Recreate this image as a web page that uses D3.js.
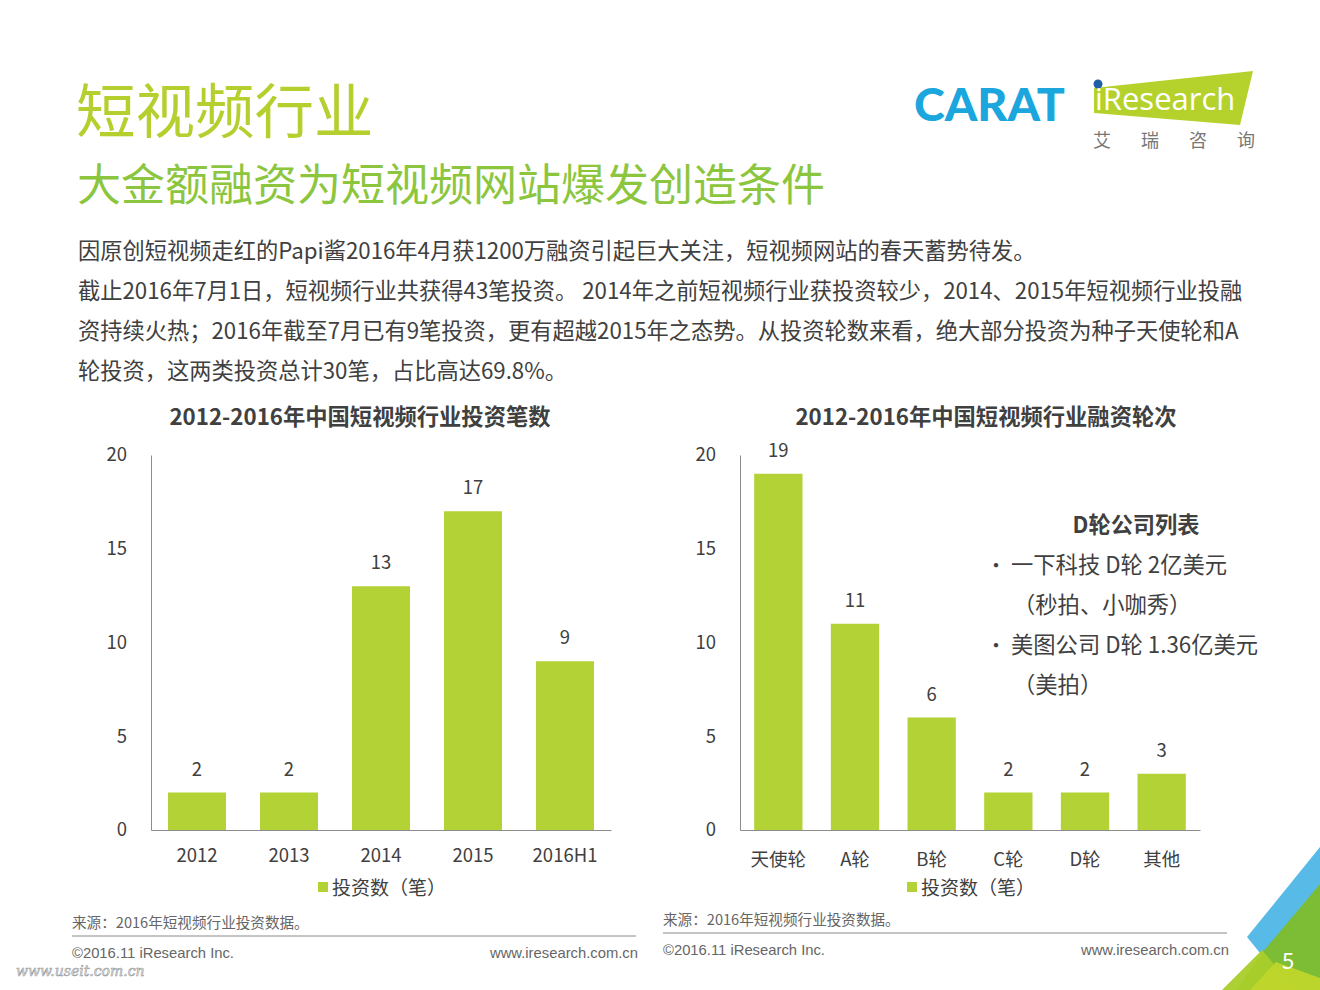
<!DOCTYPE html>
<html>
<head>
<meta charset="utf-8">
<script src="https://cdn.jsdelivr.net/npm/d3@7"></script>
<style>
  body { margin: 0; background: #fff; }
  svg { display: block; font-family: "Noto Sans CJK SC", "Noto Sans", sans-serif; }
</style>
</head>
<body>
<svg id="slide" width="1320" height="990"></svg>
<script>
// data
var years = ["2012", "2013", "2014", "2015", "2016H1"];
var yearDeals = [2, 2, 13, 17, 9];
var rounds = ["天使轮", "A轮", "B轮", "C轮", "D轮", "其他"];
var roundDeals = [19, 11, 6, 2, 2, 3];
var yTicks = [0, 5, 10, 15, 20];

var bodyLines = [
  "因原创短视频走红的Papi酱2016年4月获1200万融资引起巨大关注，短视频网站的春天蓄势待发。",
  "截止2016年7月1日，短视频行业共获得43笔投资。 2014年之前短视频行业获投资较少，2014、2015年短视频行业投融",
  "资持续火热；2016年截至7月已有9笔投资，更有超越2015年之态势。从投资轮数来看，绝大部分投资为种子天使轮和A",
  "轮投资，这两类投资总计30笔，占比高达69.8%。"
];
var dList = [
  { bullet: true, text: "一下科技 D轮 2亿美元" },
  { bullet: false, text: "（秒拍、小咖秀）" },
  { bullet: true, text: "美图公司 D轮 1.36亿美元" },
  { bullet: false, text: "（美拍）" }
];

var green = "#b2d235";
var textCol = "#404040";
var svg = d3.select("#slide");

// titles
svg.append("text").attr("x", 76).attr("y", 133)
  .attr("font-size", 59.5).attr("fill", "#b5cf2f").text("短视频行业");
svg.append("text").attr("x", 77).attr("y", 201)
  .attr("font-size", 44).attr("fill", "#8cc63e").text("大金额融资为短视频网站爆发创造条件");

// logos
svg.append("text").attr("x", 914).attr("y", 121)
  .attr("font-size", 46.5).attr("font-weight", 900).attr("fill", "#1ba6de")
  .attr("font-family", "Lato, 'DejaVu Sans', sans-serif").text("CARAT");
svg.append("polygon")
  .attr("points", "1094,88 1253,71 1240,125 1094,113")
  .attr("fill", "#b5d22c");
svg.append("circle").attr("cx", 1098).attr("cy", 84).attr("r", 4.5).attr("fill", "#1f5fa8");
svg.append("text").attr("x", 1095).attr("y", 110)
  .attr("font-size", 31).attr("fill", "#fff")
  .attr("font-family", "'Open Sans', sans-serif").text("iResearch");
["艾", "瑞", "咨", "询"].forEach(function(c, i) {
  svg.append("text").attr("x", 1102 + i * 48).attr("y", 147)
    .attr("text-anchor", "middle").attr("font-size", 18).attr("fill", "#777").text(c);
});

// body paragraph
svg.append("g").selectAll("text").data(bodyLines).enter().append("text")
  .attr("x", 78).attr("y", (d, i) => 259 + i * 40)
  .attr("font-size", 22.25).attr("fill", textCol).text(d => d);

// one bar chart
function barChart(opt) {
  var g = svg.append("g");
  var x = d3.scaleBand().domain(opt.cats).range([opt.x0, opt.x1]).paddingInner(0.37).paddingOuter(0.185);
  var y = d3.scaleLinear().domain([0, 20]).range([830, 455]);

  g.append("text").attr("x", opt.titleX).attr("y", 425)
    .attr("text-anchor", "middle").attr("font-size", 22.3).attr("font-weight", 700)
    .attr("fill", textCol).text(opt.title);

  var ya = g.append("g").attr("transform", "translate(" + opt.x0 + ",0)")
    .call(d3.axisLeft(y).tickValues(yTicks).tickSize(0).tickPadding(opt.yPad).tickSizeOuter(0));
  ya.select(".domain").attr("stroke", "#8c8c8c");
  ya.selectAll("text").attr("font-size", 18.5).attr("fill", textCol).attr("font-family", "'Noto Sans CJK SC'");

  g.selectAll("rect.bar").data(opt.vals).enter().append("rect")
    .attr("class", "bar")
    .attr("x", (d, i) => x(opt.cats[i]))
    .attr("width", x.bandwidth())
    .attr("y", d => y(d))
    .attr("height", d => y(0) - y(d))
    .attr("fill", green);

  g.selectAll("text.lbl").data(opt.vals).enter().append("text")
    .attr("class", "lbl")
    .attr("x", (d, i) => x(opt.cats[i]) + x.bandwidth() / 2)
    .attr("y", d => y(d) - 17)
    .attr("text-anchor", "middle").attr("font-size", 18.5).attr("fill", textCol)
    .text(d => d);

  var xa = g.append("g").attr("transform", "translate(0,830)")
    .call(d3.axisBottom(x).tickSize(0).tickPadding(opt.xPad).tickSizeOuter(0));
  xa.select(".domain").attr("stroke", "#8c8c8c");
  xa.selectAll("text").attr("font-size", 18.5).attr("fill", textCol).attr("font-family", "'Noto Sans CJK SC'");

  // legend
  g.append("rect").attr("x", opt.legX).attr("y", 882).attr("width", 10).attr("height", 10).attr("fill", green);
  g.append("text").attr("x", opt.legX + 14).attr("y", 895)
    .attr("font-size", 19).attr("fill", textCol).text("投资数（笔）");
}

barChart({ cats: years, vals: yearDeals, x0: 151, x1: 611, title: "2012-2016年中国短视频行业投资笔数",
  titleX: 360, yPad: 24, xPad: 19, legX: 318 });
barChart({ cats: rounds, vals: roundDeals, x0: 740, x1: 1200, title: "2012-2016年中国短视频行业融资轮次",
  titleX: 986, yPad: 24, xPad: 23, legX: 907 });

// D round list
svg.append("text").attr("x", 1136).attr("y", 533).attr("text-anchor", "middle")
  .attr("font-size", 22.2).attr("font-weight", 700).attr("fill", textCol).text("D轮公司列表");
var dl = svg.append("g").selectAll("g").data(dList).enter().append("g")
  .attr("transform", (d, i) => "translate(0," + (573 + i * 40) + ")");
dl.filter(d => d.bullet).append("text").attr("x", 986).attr("font-size", 20).attr("fill", textCol).text("•");
dl.append("text").attr("x", d => d.bullet ? 1011 : 1013).attr("font-size", 22.3).attr("fill", textCol).text(d => d.text);

// footers
function footer(x0, x1, yLine) {
  svg.append("text").attr("x", x0).attr("y", yLine - 8).attr("font-size", 14.6).attr("fill", "#666")
    .text("来源：2016年短视频行业投资数据。");
  svg.append("line").attr("x1", x0).attr("x2", x1).attr("y1", yLine).attr("y2", yLine)
    .attr("stroke", "#8a8a8a").attr("stroke-width", 1);
  svg.append("text").attr("x", x0).attr("y", yLine + 22).attr("font-size", 14.8).attr("fill", "#666")
    .attr("font-family", "'Liberation Sans', Arial, sans-serif").text("©2016.11 iResearch Inc.");
  svg.append("text").attr("x", x1 + 2).attr("y", yLine + 22).attr("text-anchor", "end").attr("font-size", 14.8)
    .attr("fill", "#666").attr("font-family", "'Liberation Sans', Arial, sans-serif").text("www.iresearch.com.cn");
}
footer(72, 636, 936);
footer(663, 1227, 933);

svg.append("text").attr("x", 16).attr("y", 976).attr("font-size", 14).attr("font-style", "italic")
  .attr("fill", "#eee").attr("stroke", "#999").attr("stroke-width", 0.6)
  .attr("font-family", "'DejaVu Serif', serif").text("www.useit.com.cn");

// corner decoration
var corner = [
  { pts: "1247,937 1320,847 1320,990 1290,990", fill: "#4fb7e6" },
  { pts: "1262,953 1320,884 1320,990 1236,990", fill: "#7fbc2b" },
  { pts: "1222,990 1262,950 1296,990", fill: "#a9cd2a" },
  { pts: "1250,990 1276,962 1320,978 1320,990", fill: "#bfd62c" }
];
svg.append("g").selectAll("polygon").data(corner).enter().append("polygon")
  .attr("points", d => d.pts).attr("fill", d => d.fill).attr("opacity", 0.95);
svg.append("text").attr("x", 1288).attr("y", 969).attr("text-anchor", "middle")
  .attr("font-size", 22).attr("fill", "#fff").text("5");
</script>
</body>
</html>
